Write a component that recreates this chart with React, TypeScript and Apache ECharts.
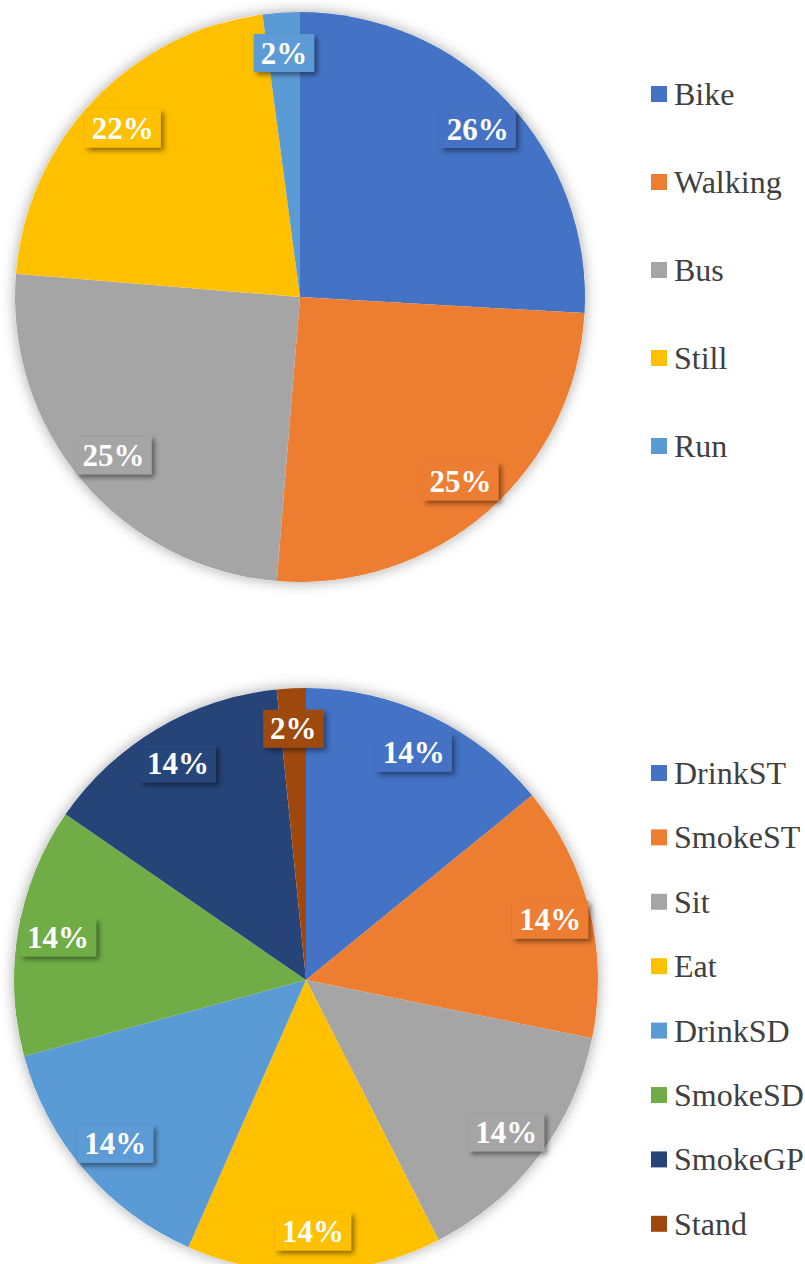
import React, { useEffect, useRef } from "react";
import * as echarts from "echarts";

const topNames = ["Bike", "Walking", "Bus", "Still", "Run"];
const topValues = [25.9, 25.4, 25.0, 21.6, 2.1];
const topColors = ["#4472C4", "#ED7D31", "#A5A5A5", "#FFC000", "#5B9BD5"];

const bottomNames = ["DrinkST", "SmokeST", "Sit", "Eat", "DrinkSD", "SmokeSD", "SmokeGP", "Stand"];
const bottomValues = [14.1, 14.1, 14.3, 14.1, 14.2, 13.8, 13.8, 1.6];
const bottomColors = ["#4472C4", "#ED7D31", "#A5A5A5", "#FFC000", "#5B9BD5", "#70AD47", "#264478", "#9E480E"];

const SERIF = "Liberation Serif";

function pieSet(names: string[], values: number[], colors: string[], center: number[], r: number, labelR0: number) {
  const bg = {
    type: "pie",
    silent: true,
    center,
    radius: r,
    startAngle: 90,
    label: { show: false },
    labelLine: { show: false },
    emphasis: { disabled: true },
    data: [{ value: 1, name: "_bg", itemStyle: { color: "#ffffff", shadowBlur: 14, shadowColor: "rgba(0,0,0,0.35)" } }],
  };
  const main = {
    type: "pie",
    silent: true,
    center,
    radius: r,
    startAngle: 90,
    clockwise: true,
    label: { show: false },
    labelLine: { show: false },
    emphasis: { disabled: true },
    data: names.map((n, i) => ({ name: n, value: values[i], itemStyle: { color: colors[i] } })),
  };
  const overlay = {
    type: "pie",
    silent: true,
    center,
    radius: [labelR0, r],
    startAngle: 90,
    clockwise: true,
    labelLine: { show: false },
    emphasis: { disabled: true },
    label: {
      show: true,
      position: "inside",
      formatter: (p: any) => Math.round(p.percent) + "%",
      color: "#ffffff",
      fontFamily: SERIF,
      fontWeight: "bold",
      fontSize: 31,
      padding: [4, 7, 3, 7],
      shadowColor: "rgba(0,0,0,0.45)",
      shadowBlur: 5,
      shadowOffsetX: 3,
      shadowOffsetY: 3,
    },
    data: names.map((n, i) => ({
      name: n,
      value: values[i],
      itemStyle: { color: "rgba(0,0,0,0)" },
      label: { backgroundColor: colors[i] },
    })),
  };
  return [bg, main, overlay];
}

export default function App() {
  const ref = useRef<HTMLDivElement>(null);
  useEffect(() => {
    if (!ref.current) return;
    const chart = echarts.init(ref.current, null, { renderer: "svg" });
    const legendText = { fontFamily: SERIF, fontSize: 32, color: "#404040", lineHeight: 32, padding: [0, 0, 0, 2] };
    chart.setOption({
      animation: false,
      backgroundColor: "#ffffff",
      legend: [
        {
          orient: "vertical",
          left: 646,
          top: 73,
          itemWidth: 16,
          itemHeight: 16,
          itemGap: 56,
          icon: "rect",
          selectedMode: false,
          data: topNames,
          textStyle: legendText,
        },
        {
          orient: "vertical",
          left: 646,
          top: 752,
          itemWidth: 16,
          itemHeight: 16,
          itemGap: 32.4,
          icon: "rect",
          selectedMode: false,
          data: bottomNames,
          textStyle: legendText,
        },
      ],
      series: [
        ...pieSet(topNames, topValues, topColors, [300, 297], 285, 198),
        ...pieSet(bottomNames, bottomValues, bottomColors, [306, 980], 292, 205),
      ],
    });
    return () => chart.dispose();
  }, []);
  return <div ref={ref} style={{ position: "absolute", left: 0, top: 0, width: 805, height: 1264 }} />;
}
